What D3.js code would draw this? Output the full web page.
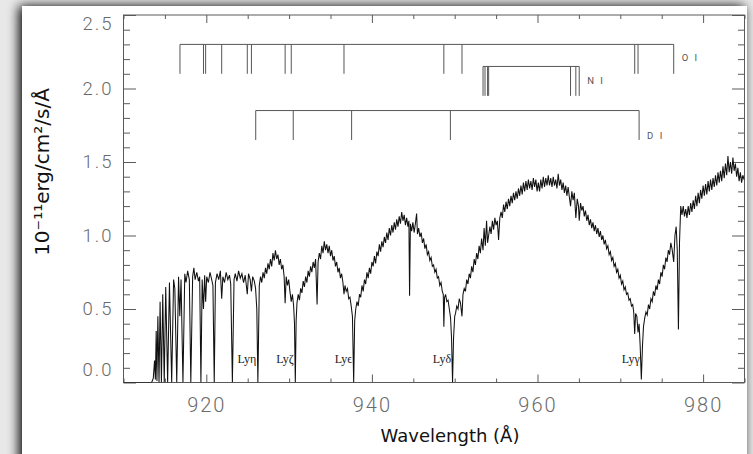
<!DOCTYPE html>
<html>
<head>
<meta charset="utf-8">
<script src="https://cdn.jsdelivr.net/npm/d3@7"></script>
<style>
  html, body { margin: 0; padding: 0; background: #e8e8e8; }
  svg { display: block; }
</style>
</head>
<body>
<div id="chart"></div>
<script>
// tick values
const xMajor = [920, 940, 960, 980];
const yMajor = [0.0, 0.5, 1.0, 1.5, 2.0, 2.5];

// interstellar line markers (wavelength, A)
const oiLines = [916.82, 919.66, 919.92, 921.86, 924.95, 925.45, 929.52, 930.26, 936.63, 948.69, 950.88, 971.74, 972.14, 976.45];
const niLines = [953.42, 953.66, 953.97, 954.10, 963.99, 964.63, 965.04];
const diLines = [925.97, 930.50, 937.55, 949.48, 972.27];
const markerNames = ["O I", "N I", "D I"];
const markerLevels = [[2.30, 2.10, 2.21], [2.15, 1.95, 2.05], [1.85, 1.65, 1.68]]; // bar, foot, label

// Lyman series labels
const lymanNames = ["Lyη", "Lyζ", "Lyϵ", "Lyδ", "Lyγ"];
const lymanWaves = [926.23, 930.75, 937.80, 949.74, 972.54];

// spectrum [wavelength, flux]
const specLimit = [[910.0,0.0],[913.4,0.0],[913.6,0.03],[913.75,0.15],[913.85,0.02],[913.95,0.35],[914.04,0.01],[914.15,0.45],[914.29,0.0],[914.42,0.55],[914.58,0.0],[914.74,0.6],[914.92,0.0],[915.1,0.65],[915.33,0.0],[915.55,0.68],[915.82,0.0],[916.05,0.7],[916.2,0.64],[916.43,0.0],[916.65,0.72],[916.8,0.45],[916.95,0.7],[917.18,0.0],[917.4,0.74],[917.55,0.68],[917.75,0.76],[917.95,0.7],[918.13,0.0],[918.35,0.72],[918.5,0.78],[918.65,0.7],[918.85,0.75],[919.05,0.69],[919.2,0.72],[919.35,0.0],[919.5,0.7],[919.66,0.5],[919.8,0.73],[919.92,0.55],[920.05,0.72],[920.25,0.68],[920.45,0.75],[920.65,0.7],[920.8,0.66],[920.96,0.0],[921.1,0.68],[921.3,0.74],[921.5,0.7],[921.7,0.76],[921.86,0.57],[922.0,0.72],[922.2,0.68],[922.4,0.75],[922.6,0.7],[922.8,0.73],[922.95,0.67],[923.15,0.0],[923.35,0.7],[923.5,0.74],[923.7,0.69],[923.9,0.76],[924.1,0.71],[924.3,0.74],[924.5,0.68],[924.7,0.73],[924.95,0.6],[925.1,0.74],[925.3,0.7],[925.45,0.62],[925.6,0.72],[925.8,0.69],[925.95,0.64],[926.1,0.5],[926.23,0.0]];
const specEta = [[926.4,0.66],[926.55,0.72],[926.7,0.68],[926.85,0.75],[927.0,0.71],[927.15,0.78],[927.3,0.74],[927.45,0.81],[927.6,0.77],[927.75,0.84],[927.9,0.79],[928.05,0.88],[928.2,0.83],[928.35,0.9],[928.5,0.84],[928.65,0.87],[928.8,0.8],[928.95,0.84],[929.1,0.77],[929.25,0.8],[929.4,0.72],[929.52,0.54],[929.65,0.72],[929.8,0.66],[929.95,0.7],[930.1,0.62],[930.26,0.55],[930.4,0.6],[930.55,0.52],[930.65,0.4],[930.75,0.0]];
const specZeta = [[930.85,0.42],[930.95,0.54],[931.1,0.6],[931.25,0.56],[931.4,0.64],[931.55,0.61],[931.7,0.69],[931.85,0.65],[932.0,0.72],[932.15,0.68],[932.3,0.76],[932.45,0.72],[932.6,0.79],[932.75,0.75],[932.9,0.82],[933.05,0.78],[933.2,0.84],[933.38,0.53],[933.5,0.82],[933.65,0.88],[933.8,0.84],[933.95,0.93],[934.1,0.88],[934.25,0.96],[934.4,0.9],[934.55,0.94],[934.7,0.88],[934.85,0.93],[935.0,0.86],[935.15,0.9],[935.3,0.83],[935.45,0.86],[935.6,0.79],[935.75,0.82],[935.9,0.75],[936.05,0.78],[936.2,0.71],[936.35,0.74],[936.5,0.68],[936.63,0.6],[936.75,0.66],[936.9,0.62],[937.05,0.64],[937.2,0.57],[937.35,0.58],[937.5,0.52],[937.65,0.45],[937.8,0.0]];
const specEps = [[937.92,0.42],[938.05,0.5],[938.2,0.55],[938.35,0.52],[938.5,0.6],[938.65,0.58],[938.8,0.66],[938.95,0.62],[939.1,0.7],[939.25,0.67],[939.4,0.75],[939.55,0.71],[939.7,0.78],[939.85,0.74],[940.0,0.82],[940.15,0.79],[940.3,0.86],[940.45,0.81],[940.6,0.89],[940.75,0.86],[940.9,0.94],[941.05,0.89],[941.2,0.96],[941.35,0.92],[941.5,0.99],[941.65,0.95],[941.8,1.02],[941.95,0.97],[942.1,1.05],[942.25,1.0],[942.4,1.07],[942.55,1.02],[942.7,1.09],[942.85,1.04],[943.0,1.11],[943.15,1.06],[943.3,1.13],[943.45,1.08],[943.6,1.16],[943.75,1.1],[943.9,1.14],[944.05,1.07],[944.2,1.12],[944.35,1.06],[944.47,1.1],[944.55,0.59],[944.65,1.08],[944.8,1.03],[944.95,1.09],[945.1,1.02],[945.25,1.08],[945.4,1.15],[945.5,1.01],[945.65,1.05],[945.8,0.99],[945.95,1.02],[946.1,0.95],[946.25,0.98],[946.4,0.91],[946.55,0.94],[946.7,0.87],[946.85,0.89],[947.0,0.83],[947.15,0.85],[947.3,0.79],[947.45,0.8],[947.6,0.75],[947.75,0.77],[947.9,0.71],[948.05,0.72],[948.2,0.66],[948.35,0.68],[948.5,0.62],[948.62,0.6],[948.69,0.38],[948.78,0.58],[948.9,0.6],[949.05,0.55],[949.2,0.56],[949.35,0.5],[949.5,0.44],[949.62,0.3],[949.74,0.0]];
const specDelta = [[949.86,0.3],[950.0,0.45],[950.1,0.47],[950.25,0.52],[950.4,0.5],[950.55,0.57],[950.7,0.54],[950.88,0.45],[951.0,0.6],[951.15,0.64],[951.3,0.62],[951.45,0.7],[951.6,0.67],[951.75,0.74],[951.9,0.71],[952.05,0.79],[952.2,0.75],[952.35,0.84],[952.5,0.8],[952.65,0.88],[952.8,0.84],[952.95,0.93],[953.1,0.88],[953.25,0.98],[953.42,0.9],[953.55,1.05],[953.7,0.93],[953.85,1.1],[953.97,0.95],[954.1,1.0],[954.25,1.06],[954.4,1.01],[954.55,1.1],[954.7,1.04],[954.85,1.12],[955.0,1.07],[955.15,1.1],[955.3,0.97],[955.45,1.12],[955.6,1.16],[955.75,1.12],[955.9,1.21],[956.05,1.16],[956.2,1.23],[956.35,1.18],[956.5,1.25],[956.65,1.2],[956.8,1.27],[956.95,1.22],[957.1,1.29],[957.25,1.24],[957.4,1.3],[957.55,1.25],[957.7,1.32],[957.85,1.27],[958.0,1.34],[958.15,1.28],[958.3,1.36],[958.45,1.3],[958.6,1.37],[958.75,1.31],[958.9,1.38],[959.05,1.32],[959.2,1.37],[959.35,1.31],[959.5,1.39],[959.65,1.33],[959.8,1.38],[959.95,1.3],[960.1,1.36],[960.25,1.3],[960.4,1.38],[960.55,1.32],[960.7,1.4],[960.85,1.33],[961.0,1.39],[961.15,1.34],[961.3,1.41],[961.45,1.34],[961.6,1.39],[961.75,1.33],[961.9,1.4],[962.05,1.34],[962.2,1.38],[962.35,1.32],[962.5,1.42],[962.65,1.34],[962.8,1.38],[962.95,1.31],[963.1,1.36],[963.25,1.29],[963.4,1.34],[963.55,1.27],[963.7,1.33],[963.85,1.26],[963.99,1.2],[964.15,1.3],[964.3,1.24],[964.45,1.29],[964.63,1.12],[964.8,1.25],[964.95,1.2],[965.04,1.1],[965.2,1.22],[965.35,1.17],[965.5,1.2],[965.65,1.13],[965.8,1.17],[965.95,1.1],[966.1,1.14],[966.25,1.07],[966.4,1.11],[966.55,1.05],[966.7,1.09],[966.85,1.03],[967.0,1.07],[967.15,1.01],[967.3,1.05],[967.45,0.99],[967.6,1.03],[967.75,0.97],[967.9,1.0],[968.05,0.94],[968.2,0.97],[968.35,0.91],[968.5,0.93],[968.65,0.87],[968.8,0.89],[968.95,0.83],[969.1,0.85],[969.25,0.79],[969.4,0.81],[969.55,0.75],[969.7,0.77],[969.85,0.71],[970.0,0.73],[970.15,0.67],[970.3,0.69],[970.45,0.63],[970.6,0.65],[970.75,0.6],[970.9,0.61],[971.05,0.56],[971.2,0.57],[971.35,0.52],[971.5,0.53],[971.62,0.48],[971.74,0.33],[971.85,0.47],[972.0,0.45],[972.14,0.34],[972.27,0.4],[972.4,0.25],[972.54,0.02]];
const specGamma = [[972.68,0.25],[972.8,0.38],[972.95,0.44],[973.1,0.48],[973.25,0.46],[973.4,0.53],[973.55,0.5],[973.7,0.57],[973.85,0.55],[974.0,0.62],[974.15,0.59],[974.3,0.66],[974.45,0.63],[974.6,0.7],[974.75,0.67],[974.9,0.75],[975.05,0.72],[975.2,0.8],[975.35,0.77],[975.5,0.85],[975.65,0.82],[975.8,0.9],[975.95,0.87],[976.1,0.95],[976.25,0.91],[976.45,0.82],[976.6,1.0],[976.75,1.06],[976.88,0.9],[977.02,0.36],[977.15,0.95],[977.3,1.2],[977.45,1.14],[977.6,1.2],[977.75,1.13],[977.9,1.18],[978.05,1.12],[978.2,1.2],[978.35,1.14],[978.5,1.22],[978.65,1.16],[978.8,1.24],[978.95,1.18],[979.1,1.27],[979.25,1.2],[979.4,1.29],[979.55,1.22],[979.7,1.31],[979.85,1.25],[980.0,1.34],[980.15,1.27],[980.3,1.35],[980.45,1.28],[980.6,1.37],[980.75,1.3],[980.9,1.38],[981.05,1.31],[981.2,1.39],[981.35,1.33],[981.5,1.41],[981.65,1.34],[981.8,1.43],[981.95,1.36],[982.1,1.44],[982.25,1.37],[982.4,1.47],[982.55,1.39],[982.7,1.49],[982.85,1.41],[983.0,1.54],[983.15,1.43],[983.3,1.5],[983.45,1.42],[983.6,1.53],[983.75,1.44],[983.9,1.49],[984.05,1.4],[984.2,1.46],[984.35,1.37],[984.5,1.43],[984.65,1.36],[984.8,1.41],[984.95,1.38]];

const spectrum = [].concat(specLimit, specEta, specZeta, specEps, specDelta, specGamma);

const W = 753, H = 454;
const plot = { left: 123.5, right: 744.5, top: 15, bottom: 382.5 };

const svg = d3.select("#chart").append("svg")
    .attr("width", W)
    .attr("height", H);

// card with soft shadow, like the screenshot
const defs = svg.append("defs");
const shadow = defs.append("filter").attr("id", "shadow")
    .attr("x", "-10%").attr("y", "-10%").attr("width", "120%").attr("height", "120%");
shadow.append("feGaussianBlur").attr("in", "SourceAlpha").attr("stdDeviation", 6);
shadow.append("feOffset").attr("dx", -3).attr("dy", 0).attr("result", "blur");
const merge = shadow.append("feMerge");
merge.append("feMergeNode").attr("in", "blur");
merge.append("feMergeNode").attr("in", "SourceGraphic");

defs.append("clipPath").attr("id", "clip")
    .append("rect")
    .attr("x", plot.left).attr("y", plot.top)
    .attr("width", plot.right - plot.left).attr("height", plot.bottom - plot.top);

svg.append("rect")
    .attr("x", 22).attr("y", 6)
    .attr("width", 725).attr("height", 470)
    .attr("fill", "#fff")
    .attr("filter", "url(#shadow)");

const x = d3.scaleLinear().domain([910, 985]).range([plot.left, plot.right]);
const y = d3.scaleLinear().domain([0, 2.5]).range([plot.bottom, plot.top]);

const axisColor = "#5a5a5a";
const labelFont = "Roboto, 'Liberation Sans', sans-serif";

const xMinor = d3.range(910, 986, 5).filter(v => !xMajor.includes(v));
const yMinor = d3.range(0, 26, 1).map(v => v / 10).filter(v => !yMajor.some(m => Math.abs(m - v) < 1e-9));

function styleAxis(g) {
  g.select(".domain").remove();
  g.selectAll("line").attr("stroke", axisColor).attr("stroke-width", 1);
}

// bottom / top
svg.append("g").attr("transform", `translate(0,${plot.bottom})`)
    .call(d3.axisBottom(x).tickValues(xMajor).tickSize(-8).tickPadding(15).tickFormat(d3.format("d")))
    .call(styleAxis)
    .call(g => g.selectAll("text")
        .attr("font-family", labelFont).attr("font-weight", 300)
        .attr("font-size", 20).attr("letter-spacing", 2).attr("fill", "#6a6a6a"));
svg.append("g").attr("transform", `translate(0,${plot.bottom})`)
    .call(d3.axisBottom(x).tickValues(xMinor).tickSize(-4).tickFormat(""))
    .call(styleAxis);
svg.append("g").attr("transform", `translate(0,${plot.top})`)
    .call(d3.axisTop(x).tickValues(xMajor).tickSize(-8).tickFormat(""))
    .call(styleAxis);
svg.append("g").attr("transform", `translate(0,${plot.top})`)
    .call(d3.axisTop(x).tickValues(xMinor).tickSize(-4).tickFormat(""))
    .call(styleAxis);

// left / right
svg.append("g").attr("transform", `translate(${plot.left},0)`)
    .call(d3.axisLeft(y).tickValues(yMajor).tickSize(-12.5).tickPadding(10).tickFormat(d3.format(".1f")))
    .call(styleAxis)
    .call(g => g.selectAll("text")
        .attr("font-family", labelFont).attr("font-weight", 300)
        .attr("font-size", 18.5).attr("letter-spacing", 2).attr("fill", "#6a6a6a")
        .attr("dy", d => d === 2.5 ? "0.78em" : d === 0 ? "-0.4em" : "0.32em"));
svg.append("g").attr("transform", `translate(${plot.left},0)`)
    .call(d3.axisLeft(y).tickValues(yMinor).tickSize(-6.5).tickFormat(""))
    .call(styleAxis);
svg.append("g").attr("transform", `translate(${plot.right},0)`)
    .call(d3.axisRight(y).tickValues(yMajor).tickSize(-12.5).tickFormat(""))
    .call(styleAxis);
svg.append("g").attr("transform", `translate(${plot.right},0)`)
    .call(d3.axisRight(y).tickValues(yMinor).tickSize(-6.5).tickFormat(""))
    .call(styleAxis);

// frame
svg.append("rect")
    .attr("x", plot.left).attr("y", plot.top)
    .attr("width", plot.right - plot.left).attr("height", plot.bottom - plot.top)
    .attr("fill", "none").attr("stroke", axisColor).attr("stroke-width", 1);

// spectrum
const line = d3.line().x(d => x(d[0])).y(d => y(d[1]));
svg.append("path")
    .datum(spectrum)
    .attr("clip-path", "url(#clip)")
    .attr("d", line)
    .attr("fill", "none")
    .attr("stroke", "#111")
    .attr("stroke-width", 1.05)
    .attr("stroke-linejoin", "miter");

// line identification bars
const markers = svg.append("g").attr("stroke", "#555").attr("stroke-width", 1).attr("fill", "none");
[oiLines, niLines, diLines].forEach((waves, i) => {
  const [top, foot, lab] = markerLevels[i];
  markers.append("line")
      .attr("x1", x(d3.min(waves))).attr("x2", x(d3.max(waves)))
      .attr("y1", y(top)).attr("y2", y(top));
  markers.selectAll(null).data(waves).enter().append("line")
      .attr("x1", d => x(d)).attr("x2", d => x(d))
      .attr("y1", y(top)).attr("y2", y(foot));
  svg.append("text")
      .attr("x", x(d3.max(waves)) + 8)
      .attr("y", y(lab))
      .attr("dy", "0.35em")
      .attr("font-family", labelFont)
      .attr("font-size", 9.5)
      .attr("letter-spacing", 2)
      .attr("fill", "#555")
      .text(markerNames[i]);
});

// Lyman labels
svg.selectAll(".ly").data(lymanWaves).enter().append("text")
    .attr("class", "ly")
    .attr("x", d => x(d) - 1.5)
    .attr("y", 363)
    .attr("text-anchor", "end")
    .attr("font-family", "'Liberation Serif', 'DejaVu Serif', serif")
    .attr("font-size", 12)
    .attr("fill", "#222")
    .text((d, i) => lymanNames[i]);

// axis titles
svg.append("text")
    .attr("x", 450).attr("y", 442)
    .attr("text-anchor", "middle")
    .attr("font-family", "'DejaVu Sans', sans-serif")
    .attr("font-size", 18)
    .attr("fill", "#111")
    .text("Wavelength (Å)");

svg.append("text")
    .attr("transform", "translate(49,172) rotate(-90)")
    .attr("text-anchor", "middle")
    .attr("font-family", "'DejaVu Sans', sans-serif")
    .attr("font-size", 20)
    .attr("fill", "#111")
    .text("10⁻¹¹erg/cm²/s/Å");
</script>
</body>
</html>
